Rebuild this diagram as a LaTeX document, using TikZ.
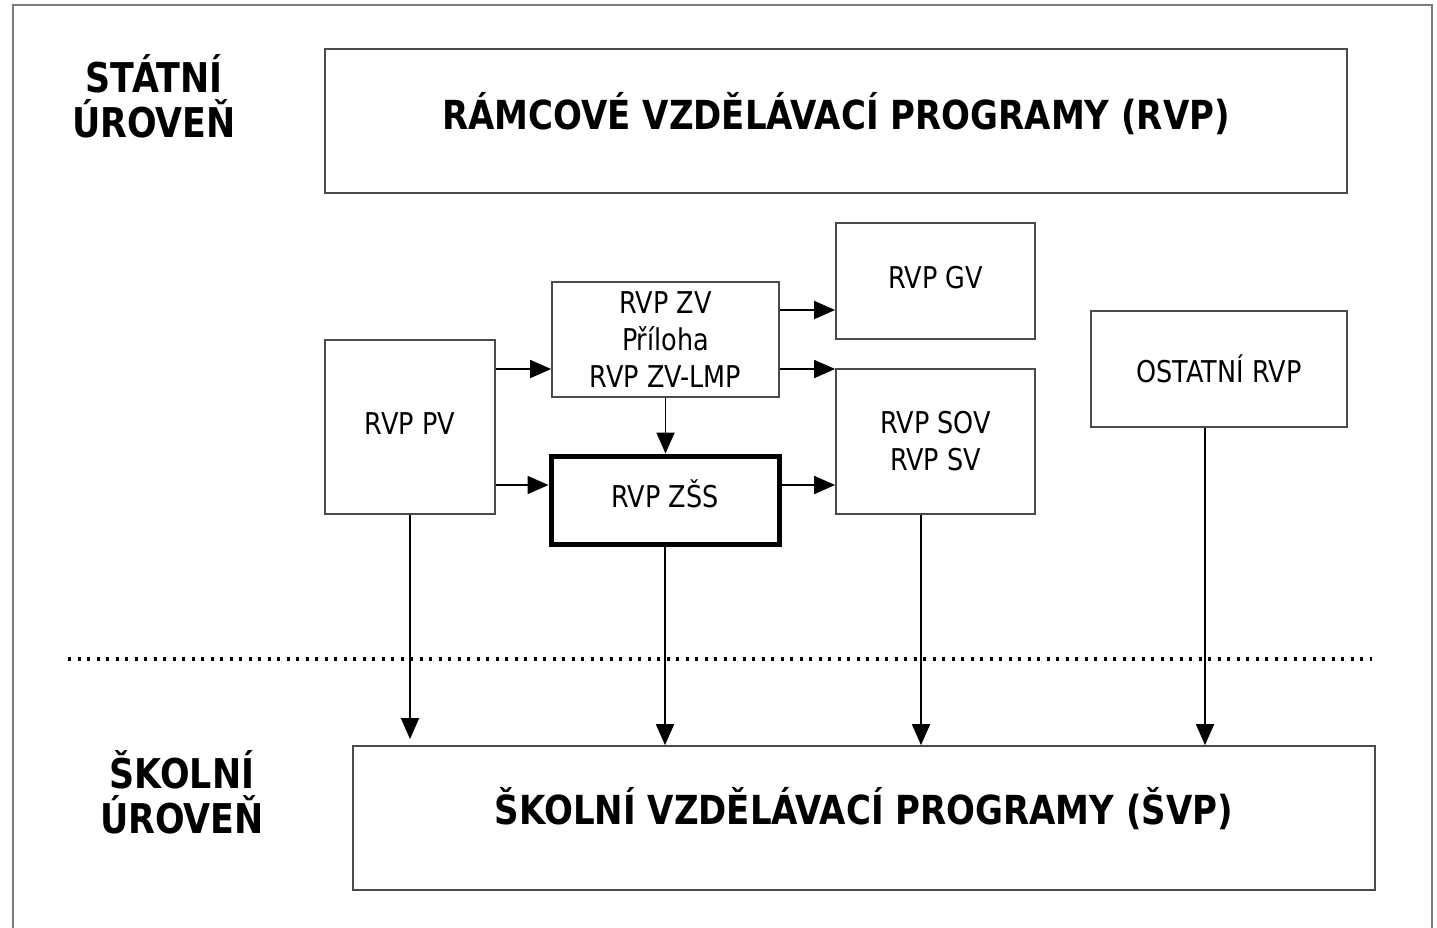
\documentclass[tikz,border=0pt]{standalone}
\usepackage{fontspec}
\setmainfont{DejaVu Sans}[FakeStretch=0.85]
\usetikzlibrary{arrows.meta}
\definecolor{boxgray}{HTML}{4A4A4A}
\definecolor{framegray}{HTML}{7A7A7A}
\tikzset{
  box/.style={draw=boxgray, line width=1.8pt, inner sep=0pt, align=center,
    font=\fontsize{30}{37}\selectfont},
  bigbox/.style={box, font=\bfseries\fontsize{40}{46}\selectfont},
  lvl/.style={inner sep=0pt, align=center, font=\bfseries\fontsize{41}{45}\selectfont},
  arr/.style={line width=1.8pt, -{Triangle[length=21pt,width=18pt]}},
}
\begin{document}
\begin{tikzpicture}[x=1pt,y=-1pt]
\useasboundingbox (0,0) rectangle (1437,927);
\clip (0,0) rectangle (1437,927);
\fill[white] (0,0) rectangle (1437,927);
\draw[framegray, line width=2.6pt] (13,5) rectangle (1432,960);

\node[lvl] (st) at (154,96) {STÁTNÍ\\ÚROVEŇ};
\node[lvl] (sk) at (182,792) {ŠKOLNÍ\\ÚROVEŇ};

\node[bigbox, minimum width=1022pt, minimum height=144pt] (rvp) at (836,121) {\raisebox{20pt}{RÁMCOVÉ VZDĚLÁVACÍ PROGRAMY (RVP)}};
\node[bigbox, minimum width=1022pt, minimum height=144pt] (svp) at (864,818) {\raisebox{24pt}{ŠKOLNÍ VZDĚLÁVACÍ PROGRAMY (ŠVP)}};

\node[box, minimum width=227pt, minimum height=115pt] (zv) at (665.5,339.5) {RVP ZV\\Příloha\\RVP ZV-LMP};
\node[box, minimum width=199pt, minimum height=116pt] (gv) at (935.5,281) {\raisebox{8pt}{RVP GV}};
\node[box, minimum width=170pt, minimum height=174pt] (pv) at (410,427) {\raisebox{6pt}{RVP PV}};
\node[box, minimum width=199pt, minimum height=145pt] (sov) at (935.5,441.5) {RVP SOV\\RVP SV};
\node[box, minimum width=256pt, minimum height=116pt] (ost) at (1219,369) {OSTATNÍ RVP};
\node[box, draw=black, line width=5pt, minimum width=228pt, minimum height=88pt] (zss) at (665,500) {\raisebox{12pt}{RVP ZŠS}};

\draw[black, line width=3.2pt, dash pattern=on 3.2pt off 6.3pt] (68,659) -- (1372,659);

\coordinate (a1) at ([yshift=58pt]pv.east);
\coordinate (a2) at ([yshift=-58pt]pv.east);
\coordinate (b1) at ([yshift=-29.5pt]zv.east);
\coordinate (b2) at ([yshift=29.5pt]zv.east);
\coordinate (c1) at ([yshift=15pt]zss.east);
\draw[arr] (a1) -- (a1 -| zv.west);
\draw[arr] (a2) -- (a2 -| zss.west);
\draw[arr] (b1) -- (b1 -| gv.west);
\draw[arr] (b2) -- (b2 -| sov.west);
\draw[arr] (c1) -- (c1 -| sov.west);
\draw[arr] (zv.south) -- (zv.south |- zss.north);

\coordinate (d1) at (pv.south);
\coordinate (d2) at (zss.south);
\coordinate (d3) at ([xshift=-14.5pt]sov.south);
\coordinate (d4) at ([xshift=-14pt]ost.south);
\draw[arr] (d1) -- ([yshift=6pt]d1 |- svp.north);
\draw[arr] (d2) -- (d2 |- svp.north);
\draw[arr] (d3) -- (d3 |- svp.north);
\draw[arr] (d4) -- (d4 |- svp.north);
\end{tikzpicture}
\end{document}
